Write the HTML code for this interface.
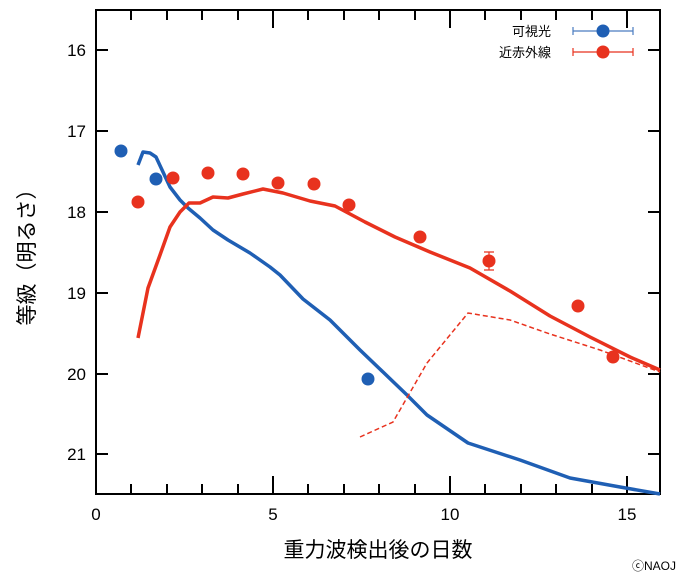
<!DOCTYPE html><html><head><meta charset="utf-8"><style>body{margin:0;background:#fff}svg text{font-family:"Liberation Sans","Noto Sans CJK JP",sans-serif}</style></head><body>
<svg width="682" height="576" xmlns="http://www.w3.org/2000/svg">
<rect x="96" y="10" width="564" height="484" fill="none" stroke="#000" stroke-width="2"/>
<g stroke="#000" stroke-width="2">
<path d="M96 50h12M96 131h12M96 212h12M96 293h12M96 374h12M96 454h12M660 50h-12M660 131h-12M660 212h-12M660 293h-12M660 374h-12M660 454h-12"/>
<path d="M131 494v-10M167 494v-10M202 494v-10M238 494v-10M273 494v-18M308 494v-10M344 494v-10M379 494v-10M415 494v-10M450 494v-18M485 494v-10M521 494v-10M556 494v-10M592 494v-10M627 494v-18"/>
<path d="M131 10v10M167 10v10M202 10v10M238 10v10M273 10v18M308 10v10M344 10v10M379 10v10M415 10v10M450 10v18M485 10v10M521 10v10M556 10v10M592 10v10M627 10v18"/>
</g>
<g font-size="17" fill="#000" text-anchor="end">
<text x="86" y="56">16</text><text x="86" y="137">17</text><text x="86" y="218">18</text><text x="86" y="299">19</text><text x="86" y="380">20</text><text x="86" y="460">21</text>
</g>
<g font-size="17" text-anchor="middle"><text x="96" y="520">0</text><text x="273" y="520">5</text><text x="450" y="520">10</text><text x="627" y="520">15</text></g>
<text x="378" y="557" font-size="21" text-anchor="middle">重力波検出後の日数</text>
<text transform="translate(34,252) rotate(-90)" font-size="21" text-anchor="middle">等級（明るさ）</text>
<text x="676" y="570" font-size="12" text-anchor="end">ⓒNAOJ</text>
<polyline fill="none" stroke="#1f5fb4" stroke-width="3.5" stroke-linejoin="round" points="138,165 143,152 150,153 156,157 163,172 170,187 180,200 188,208 200,218 213,230 228,240 250,253 270,267 280,275 303,299 330,320 360,350 407,395 427,415 468,443 520,460 570,478 620,487 660,494"/>
<polyline fill="none" stroke="#e8321e" stroke-width="3.5" stroke-linejoin="round" points="138,338 148,288 160,255 170,227 180,212 189,203 200,203 213,197 228,198 243,194 263,189 283,193 310,201 335,206 365,222 395,237 430,252 470,268 510,291 550,316 590,337 630,357 660,370"/>
<polyline fill="none" stroke="#e8321e" stroke-width="1.5" stroke-dasharray="5,3" points="360,437 393,422 427,363 468,313 510,320 550,334 600,350 660,372"/>
<g fill="#1f5fb4"><circle cx="121" cy="151" r="6.5"/><circle cx="156" cy="179" r="6.5"/><circle cx="368" cy="379" r="6.5"/></g>
<g fill="#e8321e"><circle cx="138" cy="202" r="6.5"/><circle cx="173" cy="178" r="6.5"/><circle cx="208" cy="173" r="6.5"/><circle cx="243" cy="174" r="6.5"/><circle cx="278" cy="183" r="6.5"/><circle cx="314" cy="184" r="6.5"/><circle cx="349" cy="205" r="6.5"/><circle cx="420" cy="237" r="6.5"/><circle cx="489" cy="261" r="6.5"/><circle cx="578" cy="306" r="6.5"/><circle cx="613" cy="357" r="6.5"/></g>
<path d="M489 252v18M484 252h10M484 270h10" stroke="#e8321e" stroke-width="1.2"/>
<g font-size="13" text-anchor="end"><text x="551" y="36">可視光</text><text x="551" y="57">近赤外線</text></g>
<path d="M573 31h60M573 27v8M633 27v8" stroke="#4a7cc0" stroke-width="1.2"/>
<circle cx="603" cy="31" r="6.5" fill="#1f5fb4"/>
<path d="M573 52h60M573 48v8M633 48v8" stroke="#e8321e" stroke-width="1.2"/>
<circle cx="603" cy="52" r="6.5" fill="#e8321e"/>
</svg></body></html>
